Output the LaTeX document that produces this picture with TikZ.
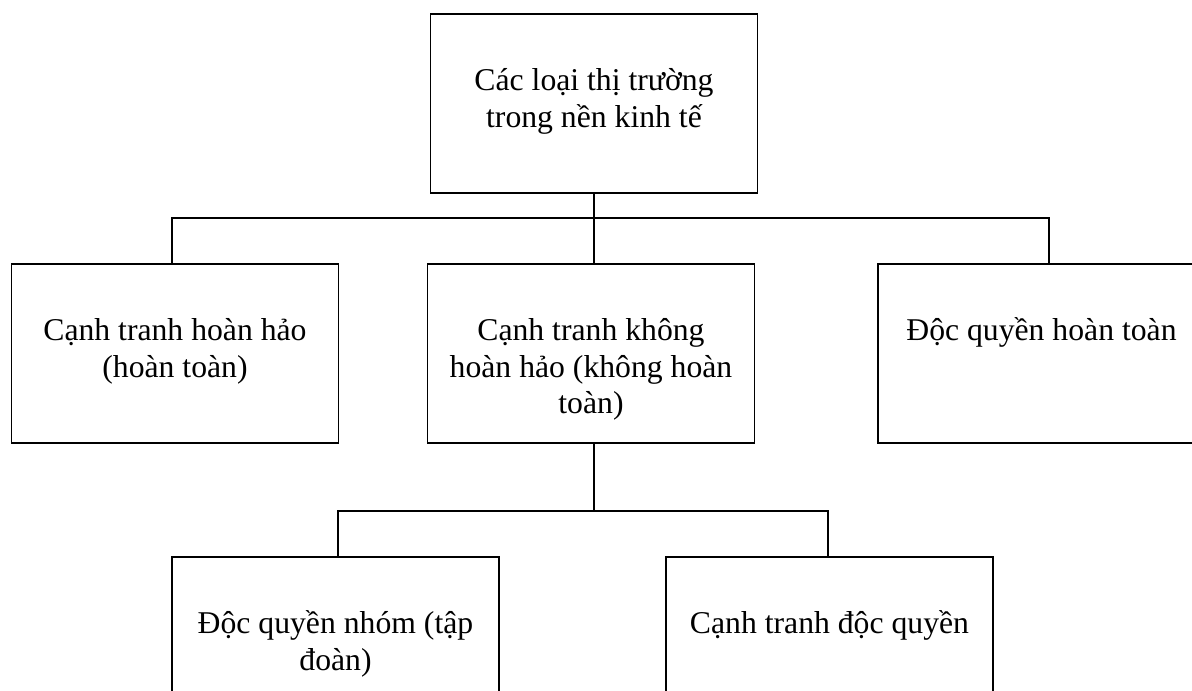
\documentclass[tikz,border=0pt]{standalone}
\usepackage{fontspec}
\setmainfont{Liberation Serif}
\usepackage{tikz}

\tikzset{
  box/.style={draw, line width=1.8pt, minimum width=327pt, minimum height=179pt, inner sep=0pt},
  txt/.style={anchor=base, inner sep=0pt, text width=320pt, align=flush center,
    font=\fontsize{31.7pt}{36.5pt}\selectfont},
  conn/.style={line width=1.8pt}
}

\begin{document}
\begin{tikzpicture}[x=1pt,y=-1pt]

% Page
\clip (0,0) rectangle (1192,691);

% Boxes
\node[box] (top) at (594,103.5) {};
\node[box] (left) at (175,353.5) {};
\node[box] (mid) at (591,353.5) {};
\node[box] (right) at (1041.5,353.5) {};
\node[box] (bl) at (335.5,646.5) {};
\node[box] (br) at (829.5,646.5) {};

% Labels
\node[txt] (topt) at ([yshift=-77.5pt]top.north) {Các loại thị trường\\trong nền kinh tế};
\node[txt] (leftt) at ([yshift=-77.5pt]left.north) {Cạnh tranh hoàn hảo\\(hoàn toàn)};
\node[txt] (midt) at ([yshift=-77.5pt]mid.north) {Cạnh tranh không\\hoàn hảo (không hoàn\\toàn)};
\node[txt] (rightt) at ([yshift=-77.5pt]right.north) {Độc quyền hoàn toàn};
\node[txt] (blt) at ([yshift=-77.5pt]bl.north) {Độc quyền nhóm (tập\\đoàn)};
\node[txt] (brt) at ([yshift=-77.5pt]br.north) {Cạnh tranh độc quyền};

% Upper connectors
\coordinate (bus1) at (594,218);
\draw[conn] (top.south) -- (top.south |- mid.north);
\draw[conn] ([xshift=-3pt]left.north) |- (bus1) -| ([xshift=7.5pt]right.north);

% Lower connectors
\coordinate (bus2) at (594,511);
\draw[conn] ([xshift=3pt]mid.south) -- (bus2);
\draw[conn] ([xshift=2.5pt]bl.north) |- (bus2) -| ([xshift=-1.5pt]br.north);

\end{tikzpicture}
\end{document}
